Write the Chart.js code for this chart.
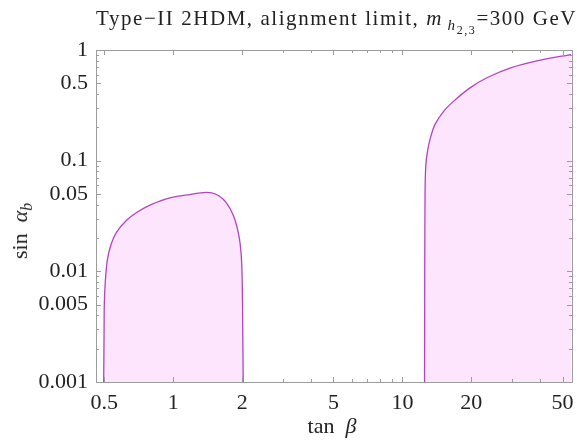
<!DOCTYPE html>
<html>
<head>
<meta charset="utf-8">
<script src="https://cdn.jsdelivr.net/npm/chart.js@4/dist/chart.umd.min.js"></script>
<style>
    html, body { margin: 0; padding: 0; background: #fff; }
    #wrap { position: relative; width: 577px; height: 441px; font-family: 'Liberation Serif', 'DejaVu Serif', serif; color: #222; }
    #wrap canvas { position: absolute; left: 0; top: 0; }
    .lbl { position: absolute; white-space: nowrap; font-size: 21px; line-height: 1; }
    .lbl sub { font-size: 0.72em; vertical-align: -0.3em; line-height: 0; }
    .lbl sub sub { font-size: 0.8em; vertical-align: -0.3em; }
    #title { left: 96px; top: 8px; letter-spacing: 1.55px; }
    #xTitle { left: 332px; top: 415px; font-size: 22px; transform: translateX(-50%); }
    #yTitle { left: 20px; top: 231px; font-size: 22px; transform: translate(-50%, -50%) rotate(-90deg); }
</style>
</head>
<body>
<div id="wrap">
    <canvas id="regionChart" width="577" height="441"></canvas>
    <div class="lbl" id="title">Type−II 2HDM, alignment limit, <i>m</i><sub>&thinsp;<i>h</i><sub>2,3</sub></sub>=300 GeV</div>
    <div class="lbl" id="xTitle">tan&nbsp;&nbsp;<i>β</i></div>
    <div class="lbl" id="yTitle">sin&nbsp;&nbsp;<i>α<sub>b</sub></i></div>
</div>
<script>
// allowed region, low tan(beta) branch
const leftTanBeta = [0.497, 0.499, 0.5, 0.505, 0.515, 0.535, 0.565, 0.624, 0.70, 0.80, 0.965, 1.15, 1.35, 1.47, 1.58, 1.70, 1.83, 1.93, 1.98, 2.0, 2.01, 2.02];
const leftSinAlpha = [0.001, 0.003, 0.005, 0.008, 0.0125, 0.0175, 0.0225, 0.0288, 0.0345, 0.0400, 0.0461, 0.049, 0.0515, 0.0512, 0.0482, 0.0420, 0.0320, 0.0215, 0.0140, 0.008, 0.003, 0.001];

// allowed region, high tan(beta) branch
const rightTanBeta = [12.5, 12.52, 12.56, 12.65, 12.9, 13.3, 13.9, 15.2, 16.8, 19.8, 23.5, 29.7, 40, 54.5];
const rightSinAlpha = [0.001, 0.01, 0.05, 0.09, 0.125, 0.165, 0.214, 0.282, 0.347, 0.457, 0.564, 0.69, 0.81, 0.91];

const xTicks = [0.5, 1, 2, 5, 10, 20, 50];
const xMinorTicks = [3, 4, 6, 7, 8, 9, 30, 40];
const yTicks = [0.001, 0.005, 0.01, 0.05, 0.1, 0.5, 1];
const yMinorTicks = [0.002, 0.003, 0.004, 0.006, 0.007, 0.008, 0.009,
    0.02, 0.03, 0.04, 0.06, 0.07, 0.08, 0.09,
    0.2, 0.3, 0.4, 0.6, 0.7, 0.8, 0.9];

const toPoints = (xs, ys) => xs.map((x, i) => ({ x, y: ys[i] }));

const frameTicks = {
    id: 'frameTicks',
    afterDatasetsDraw(chart) {
        const { ctx, chartArea: a, scales: { x, y } } = chart;
        ctx.save();
        ctx.strokeStyle = '#9c9c9c';
        ctx.lineWidth = 1;
        ctx.strokeRect(Math.round(a.left) + 0.5, Math.round(a.top) + 0.5,
            Math.round(a.right - a.left), Math.round(a.bottom - a.top));
        ctx.beginPath();
        const xMark = (v, len) => {
            const px = Math.round(x.getPixelForValue(v)) + 0.5;
            ctx.moveTo(px, a.bottom); ctx.lineTo(px, a.bottom - len);
            ctx.moveTo(px, a.top); ctx.lineTo(px, a.top + len);
        };
        const yMark = (v, len) => {
            const py = Math.round(y.getPixelForValue(v)) + 0.5;
            ctx.moveTo(a.left, py); ctx.lineTo(a.left + len, py);
            ctx.moveTo(a.right, py); ctx.lineTo(a.right - len, py);
        };
        xTicks.forEach(v => xMark(v, 5));
        xMinorTicks.forEach(v => xMark(v, 3));
        yTicks.forEach(v => yMark(v, 5));
        yMinorTicks.forEach(v => yMark(v, 3));
        ctx.stroke();
        ctx.restore();
    }
};

const regionStyle = {
    borderColor: '#b044c0',
    backgroundColor: '#fde6fd',
    borderWidth: 1.3,
    pointRadius: 0,
    fill: 'start',
    tension: 0.3
};

const tickFont = { family: "'Liberation Serif', serif", size: 22 };

new Chart(document.getElementById('regionChart'), {
    type: 'line',
    data: {
        datasets: [
            { ...regionStyle, label: 'low tan beta', data: toPoints(leftTanBeta, leftSinAlpha) },
            { ...regionStyle, label: 'high tan beta', data: toPoints(rightTanBeta, rightSinAlpha) }
        ]
    },
    options: {
        responsive: false,
        animation: false,
        events: [],
        layout: { padding: { top: 50, right: 5, left: 0, bottom: 0 } },
        plugins: {
            legend: { display: false },
            tooltip: { enabled: false }
        },
        scales: {
            x: {
                type: 'logarithmic',
                min: 0.46,
                max: 55,
                afterBuildTicks: scale => { scale.ticks = xTicks.map(value => ({ value })); },
                afterFit: scale => { scale.height = 59; },
                grid: { display: false },
                border: { display: false },
                ticks: {
                    autoSkip: false,
                    maxRotation: 0,
                    padding: 0,
                    color: '#222',
                    font: tickFont,
                    callback: value => String(value)
                }
            },
            y: {
                type: 'logarithmic',
                min: 0.001,
                max: 1,
                afterBuildTicks: scale => { scale.ticks = yTicks.map(value => ({ value })); },
                afterFit: scale => { scale.width = 96; },
                grid: { display: false },
                border: { display: false },
                ticks: {
                    autoSkip: false,
                    padding: 0,
                    color: '#222',
                    font: tickFont,
                    callback: value => String(value)
                }
            }
        }
    },
    plugins: [frameTicks]
});
</script>
</body>
</html>
